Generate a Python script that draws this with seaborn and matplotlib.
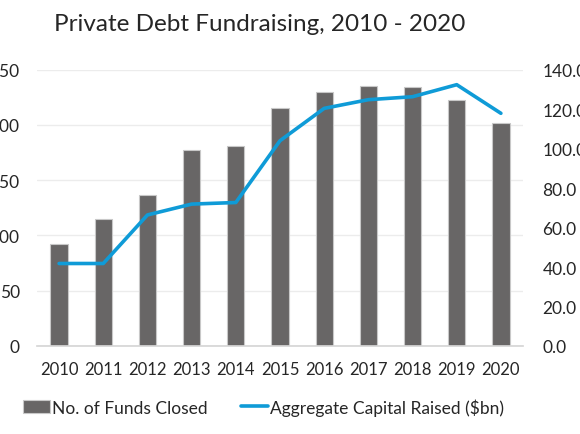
import numpy as np
import pandas as pd
import matplotlib
matplotlib.use("Agg")
import matplotlib.pyplot as plt
import seaborn as sns

# values
years = ["2010", "2011", "2012", "2013", "2014", "2015",
         "2016", "2017", "2018", "2019", "2020"]
funds_closed = [92, 115, 137, 177, 181, 215, 230, 235, 234, 223, 202]
capital_raised = [41.8, 41.8, 66.4, 71.9, 72.7, 104.0,
                  120.4, 124.8, 126.3, 132.4, 117.9]

bar_color = "#686666"
line_color = "#0F9BD7"
text_color = "#262626"

sns.set_theme(style="white")
plt.rcParams["font.family"] = ["Lato", "DejaVu Sans"]

df = pd.DataFrame({"year": years, "funds": funds_closed,
                   "capital": capital_raised})
df["pos"] = np.arange(len(df))

fig = plt.figure(figsize=(5.8, 4.35), dpi=100)
ax = fig.add_axes([0.0638, 0.2023, 0.8379, 0.6352])

sns.barplot(data=df, x="year", y="funds", color=bar_color, width=0.39,
            edgecolor="#c8c8c8", linewidth=0.8, saturation=1,
            label="No. of Funds Closed", ax=ax)
if ax.get_legend() is not None:
    ax.get_legend().remove()
ax.set_ylim(0, 250)
ax.set_yticks(np.arange(0, 251, 50))
ax.set_xlim(-0.5, len(years) - 0.5)
ax.yaxis.grid(True, color="#ececec", linewidth=1)
ax.set_axisbelow(True)
ax.set_xlabel("")
ax.set_ylabel("")
for side in ["top", "left", "right"]:
    ax.spines[side].set_visible(False)
ax.spines["bottom"].set_color("#d6d6d6")
ax.tick_params(axis="y", length=0, pad=12.5, labelsize=12.5, labelcolor=text_color)
ax.tick_params(axis="x", length=0, pad=11, labelsize=12, labelcolor=text_color)

ax2 = ax.twinx()
sns.lineplot(data=df, x="pos", y="capital", color=line_color, linewidth=2.6,
             label="Aggregate Capital Raised ($bn)", legend=False, ax=ax2)
ax2.set_ylim(0, 140)
ax2.set_yticks(np.arange(0, 141, 20))
ax2.set_yticklabels([f"{v:.1f}" for v in np.arange(0, 141, 20)])
ax2.set_xlim(-0.5, len(years) - 0.5)
ax2.set_ylabel("")
for side in ["top", "left", "right", "bottom"]:
    ax2.spines[side].set_visible(False)
ax2.tick_params(axis="y", length=0, pad=14, labelsize=12.5, labelcolor=text_color)

h1, l1 = ax.get_legend_handles_labels()
h2, l2 = ax2.get_legend_handles_labels()
leg = fig.legend(h1 + h2, l1 + l2, loc="center", ncol=2,
                 bbox_to_anchor=(0.454, 0.062), frameon=False,
                 fontsize=12.5, handlelength=1.6, handletextpad=0.1,
                 columnspacing=1.9, handleheight=0.8)
for t in leg.get_texts():
    t.set_color(text_color)

fig.suptitle("Private Debt Fundraising, 2010 - 2020", x=0.448, y=0.943,
             va="center", fontsize=17.5, color=text_color)

fig.savefig("out.png", dpi=100)
